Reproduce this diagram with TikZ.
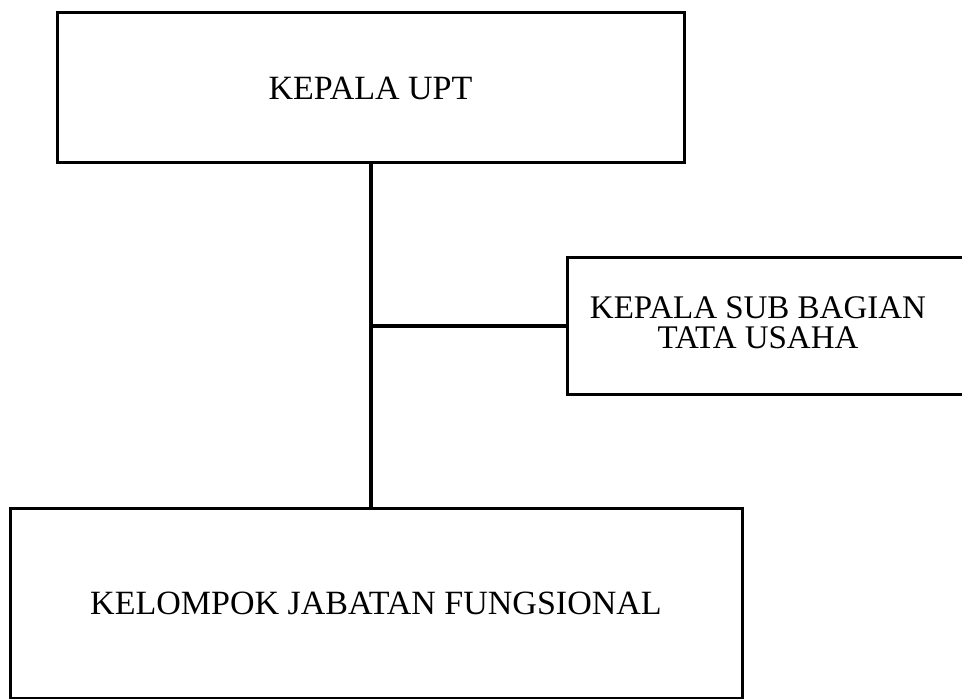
\documentclass[tikz,border=0pt]{standalone}
\usepackage{fontspec}
\setmainfont{Liberation Serif}
\usetikzlibrary{positioning}

\begin{document}
\begin{tikzpicture}[
  x=0.5pt, y=-0.5pt,
  unit/.style={rectangle, draw=black, line width=1.5pt, inner sep=0pt,
    align=center, font=\fontsize{17}{20}\selectfont},
  caption/.style={align=center, inner sep=0pt,
    font=\fontsize{16.5}{15}\selectfont},
  link/.style={line width=2pt, draw=black}
]
\useasboundingbox (0,0) rectangle (962,699);

\node[unit, minimum width=313.5pt, minimum height=75pt] (kepala) at (370.5,88) {KEPALA UPT};
\node[unit, minimum width=216.5pt, minimum height=68.5pt] (tu) at (783.5,326.5) {};
\node[caption] (tutext) at (758,323) {KEPALA SUB BAGIAN\\TATA USAHA};
\node[unit, minimum width=366pt, minimum height=95.25pt] (kelompok) at (376,603.25) {KELOMPOK JABATAN FUNGSIONAL};

\draw[link] (kepala.south) -- (kepala.south |- kelompok.north);
\draw[link] (kepala.south |- tu.west) -- (tu.west);
\end{tikzpicture}
\end{document}
